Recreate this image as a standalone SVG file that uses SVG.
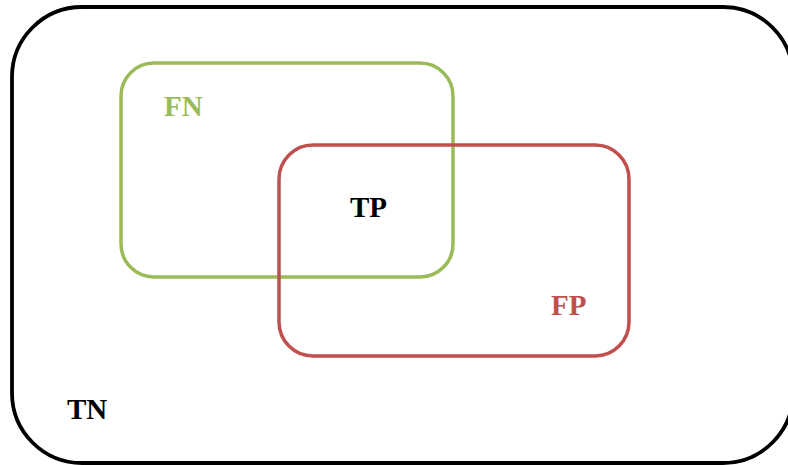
<svg xmlns="http://www.w3.org/2000/svg" width="788" height="465" viewBox="0 0 788 465">
<style>
.lbl{font-family:"Liberation Serif","Times New Roman",serif;font-weight:bold;font-size:29px}
.box{fill:none}
</style>
<rect width="788" height="465" fill="#ffffff"/>
<g id="universe">
<rect class="box" x="12" y="7" width="781" height="456" rx="70" ry="70" stroke="#000000" stroke-width="3.8"/>
<text class="lbl" x="67" y="419" fill="#000000">TN</text>
</g>
<g id="actual">
<rect class="box" x="121" y="63" width="332" height="214" rx="33" ry="33" stroke="#9BBB59" stroke-width="3.5"/>
<text class="lbl" x="164" y="116" fill="#9BBB59">FN</text>
</g>
<g id="predicted">
<rect class="box" x="279" y="145" width="350" height="211" rx="34" ry="34" stroke="#C0504D" stroke-width="3.5"/>
<text class="lbl" x="551" y="315" fill="#C0504D">FP</text>
</g>
<g id="overlap">
<text class="lbl" x="350" y="217" fill="#000000">TP</text>
</g>
<g id="connectors"></g>
</svg>
